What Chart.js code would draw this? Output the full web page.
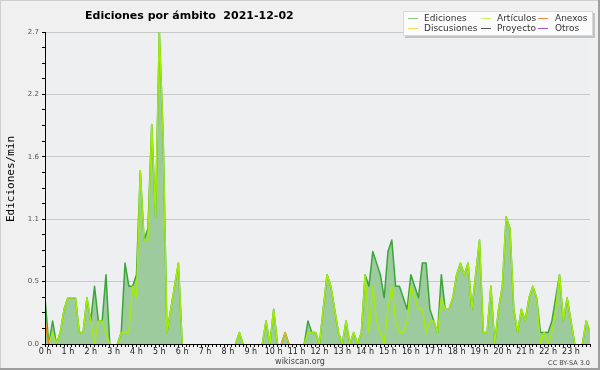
<!DOCTYPE html>
<html><head><meta charset="utf-8">
<script src="https://cdn.jsdelivr.net/npm/chart.js@4"></script>
<style>html,body{margin:0;padding:0;background:#f0f0f0;}canvas{display:block;}</style>
</head><body>
<canvas id="c" width="600" height="370"></canvas>
<script>
// 10-minute slots, 0 = 00:00 ... 143 = 23:50
const hourLabels = ['0 h','1 h','2 h','3 h','4 h','5 h','6 h','7 h','8 h','9 h','10 h','11 h','12 h','13 h','14 h','15 h','16 h','17 h','18 h','19 h','20 h','21 h','22 h','23 h'];
const yTickValues = [0, 0.54, 1.08, 1.62, 2.16, 2.7];
const yTickLabels = ['0.0', '0.5', '1.1', '1.6', '2.2', '2.7'];
const seriesNames = ['Ediciones', 'Artículos', 'Anexos', 'Discusiones', 'Proyecto', 'Otros'];

const ediciones = [
 0.4,0,0.2,0,0.1,0.3, 0.4,0.4,0.4,0.1,0.1,0.4, 0.2,0.5,0.2,0.2,0.6,0,
 0,0,0.1,0.7,0.5,0.5, 0.6,1.5,0.9,1.0,1.9,1.1, 2.7,1.8,0.1,0.3,0.5,0.7,
 0,0,0,0,0,0, 0,0,0,0,0,0, 0,0,0,0.1,0,0,
 0,0,0,0,0.2,0, 0.3,0,0,0.1,0,0, 0,0,0,0.2,0.1,0.1,
 0,0.3,0.6,0.5,0.3,0.1, 0,0.2,0,0.1,0,0.1, 0.6,0.5,0.8,0.7,0.6,0.4,
 0.8,0.9,0.5,0.5,0.4,0.3, 0.6,0.5,0.4,0.7,0.7,0.3, 0.2,0.1,0.6,0.3,0.3,0.4,
 0.6,0.7,0.6,0.7,0.3,0.6, 0.9,0.1,0.1,0.5,0,0.3, 0.5,1.1,1.0,0.3,0.1,0.3,
 0.2,0.4,0.5,0.4,0.1,0.1, 0.1,0.2,0.4,0.6,0.2,0.4, 0.2,0,0,0,0.2,0.1
];
const articulos = [
 0.2,0,0.1,0,0.1,0.3, 0.4,0.4,0.4,0.1,0.1,0.4, 0.2,0,0.2,0.2,0.1,0,
 0,0,0.1,0.1,0.1,0.5, 0.4,1.5,0.9,0.9,1.9,1.1, 2.7,1.8,0.1,0.3,0.5,0.7,
 0,0,0,0,0,0, 0,0,0,0,0,0, 0,0,0,0.1,0,0,
 0,0,0,0,0.2,0, 0.3,0,0,0,0,0, 0,0,0,0.1,0.1,0.1,
 0,0.3,0.6,0.5,0.3,0.1, 0,0.2,0,0.1,0,0.1, 0.6,0.1,0.5,0.2,0.1,0,
 0.3,0.5,0.2,0.1,0.1,0.2, 0.5,0.4,0.3,0.3,0.1,0.2, 0.2,0.1,0.4,0.3,0.3,0.4,
 0.6,0.7,0.6,0.7,0.3,0.6, 0.9,0.1,0.1,0.5,0,0.3, 0.5,1.1,1.0,0.3,0.1,0.3,
 0.2,0.4,0.5,0.4,0,0.1, 0,0.1,0.3,0.6,0.2,0.4, 0.2,0,0,0,0.2,0.1
];
const anexos = [
 0.2,0,0,0,0,0, 0,0,0,0,0,0, 0,0,0,0,0,0,
 0,0,0,0,0,0, 0,0,0,0,0,0, 0,0,0,0,0,0,
 0,0,0,0,0,0, 0,0,0,0,0,0, 0,0,0,0,0,0,
 0,0,0,0,0,0, 0,0,0,0,0,0, 0,0,0,0,0,0,
 0,0,0,0,0,0, 0,0,0,0,0,0, 0,0,0,0,0,0,
 0,0,0,0,0,0, 0,0,0,0,0,0, 0,0,0,0,0,0,
 0,0,0,0,0,0, 0,0,0,0,0,0, 0,0,0,0,0,0,
 0,0,0,0,0,0, 0,0,0,0,0,0, 0,0,0,0,0,0
];
const discusiones = [
 0,0,0,0,0,0, 0,0,0,0,0,0, 0,0,0,0,0,0,
 0,0,0,0,0,0, 0,0,0,0,0,0, 0,0,0,0,0,0,
 0,0,0,0,0,0, 0,0,0,0,0,0, 0,0,0,0,0,0,
 0,0,0,0,0,0, 0,0,0,0.1,0,0, 0,0,0,0,0,0,
 0,0,0,0,0,0, 0,0,0,0,0,0, 0,0,0,0,0,0,
 0,0,0,0,0,0, 0,0,0,0,0,0, 0,0,0,0,0,0,
 0,0,0,0,0,0, 0,0,0,0,0,0, 0,0,0,0,0,0,
 0,0,0,0,0,0, 0,0,0,0,0,0, 0,0,0,0,0,0
];
const proyecto = [
 0,0,0,0,0,0, 0,0,0,0,0,0, 0,0,0,0,0,0,
 0,0,0,0,0,0, 0,0,0,0,0,0, 0,0,0,0,0,0,
 0,0,0,0,0,0, 0,0,0,0,0,0, 0,0,0,0,0,0,
 0,0,0,0,0,0, 0,0,0,0,0,0, 0,0,0,0,0,0,
 0,0,0,0,0,0, 0,0,0,0,0,0, 0,0,0,0,0,0,
 0,0,0,0,0,0, 0,0,0,0,0,0, 0,0,0,0,0,0,
 0,0,0,0,0,0, 0,0,0,0,0,0, 0,0,0,0,0,0,
 0,0,0,0,0,0, 0,0,0,0,0,0, 0,0,0,0,0,0
];
const otros = proyecto.slice();

const lineColors = ['#3aa53a', '#a2ec0a', '#ee7722', '#dcbc1c', '#555555', '#8844ee'];
const legendColors = ['#88cc88', '#ccee66', '#ee8855', '#eedd55', '#555555', '#9955ee'];

function toPoints(arr) { return arr.map((v, i) => ({x: i, y: v})); }
function hideFlat(color) {
  return ctx => (ctx.p0.parsed.y === 0 && ctx.p1.parsed.y === 0) ? 'rgba(0,0,0,0)' : color;
}
const seriesData = [ediciones, articulos, anexos, discusiones, proyecto, otros];
const datasets = seriesData.map((arr, k) => ({
  label: seriesNames[k],
  data: toPoints(arr),
  borderColor: lineColors[k],
  borderWidth: 1.5,
  borderJoinStyle: 'round',
  pointRadius: 0,
  tension: 0,
  fill: k === 0 ? 'origin' : false,
  backgroundColor: k === 0 ? '#9ecb9e' : lineColors[k],
  segment: { borderColor: hideFlat(lineColors[k]) },
  order: 10 - k
}));

const decor = {
  id: 'decor',
  beforeDraw(chart) {
    const c = chart.ctx, a = chart.chartArea;
    c.save();
    c.fillStyle = '#f0f0f0';
    c.fillRect(0, 0, 600, 370);
    c.fillStyle = '#eeeff1';
    c.fillRect(a.left, a.top, a.right - a.left, a.bottom - a.top);
    c.fillStyle = '#cfcfcf';
    c.fillRect(0, 0, 600, 1); c.fillRect(0, 0, 1, 370);
    c.fillStyle = '#9e9e9e';
    c.fillRect(0, 368, 600, 2); c.fillRect(598, 0, 2, 370);
    c.restore();
  },
  afterDraw(chart) {
    const c = chart.ctx;
    c.save();
    c.fillStyle = '#000';
    c.font = 'bold 11px "DejaVu Sans"';
    c.textBaseline = 'alphabetic';
    c.textAlign = 'left';
    c.fillText('Ediciones por ámbito  2021-12-02', 85, 19);
    c.save();
    c.translate(11, 179);
    c.rotate(-Math.PI / 2);
    c.font = '11px "DejaVu Sans Mono"';
    c.textAlign = 'center';
    c.textBaseline = 'middle';
    c.fillStyle = '#000';
    c.fillText('Ediciones/min', 0, 0);
    c.restore();
    // legend
    c.fillStyle = '#c4c4c4';
    c.fillRect(405, 13, 190, 25);
    c.fillStyle = '#fbfbfb';
    c.fillRect(403, 11, 190, 25);
    c.strokeStyle = '#d8d8d8';
    c.lineWidth = 1;
    c.strokeRect(403.5, 11.5, 189, 24);
    const cols = [[408, 424], [481, 497], [538, 555]];
    const rows = [18.5, 28.5];
    const order = [[0, 1, 2], [3, 4, 5]];
    c.font = '9px "DejaVu Sans"';
    c.textBaseline = 'middle';
    c.textAlign = 'left';
    for (let r = 0; r < 2; r++) {
      for (let k = 0; k < 3; k++) {
        const s = order[r][k];
        c.strokeStyle = legendColors[s];
        c.lineWidth = 1;
        c.beginPath();
        c.moveTo(cols[k][0], rows[r]);
        c.lineTo(cols[k][0] + 10, rows[r]);
        c.stroke();
        c.fillStyle = '#333';
        c.fillText(seriesNames[s], cols[k][1], rows[r] + 0.5);
      }
    }
    c.font = '8px "DejaVu Sans"';
    c.fillStyle = '#444';
    c.textAlign = 'center';
    c.fillText('wikiscan.org', 300, 361.5);
    c.font = '6.5px "DejaVu Sans"';
    c.textAlign = 'right';
    c.fillText('CC BY-SA 3.0', 590, 363);
    c.restore();
  }
};

new Chart(document.getElementById('c'), {
  type: 'line',
  data: { datasets },
  plugins: [decor],
  options: {
    responsive: false,
    animation: false,
    devicePixelRatio: 1,
    layout: { padding: { left: 0, top: 32, right: 10, bottom: 0 } },
    plugins: { legend: { display: false }, tooltip: { enabled: false }, title: { display: false } },
    scales: {
      x: {
        type: 'linear', min: 0, max: 143,
        afterFit(s) { s.height = 26; },
        afterBuildTicks(s) {
          const t = [];
          for (let i = 0; i <= 143; i++) t.push({ value: i });
          s.ticks = t;
        },
        ticks: {
          autoSkip: false, maxRotation: 0, minRotation: 0, padding: 0,
          font: { family: 'DejaVu Sans', size: 8 }, color: '#222',
          callback: v => (v % 6 === 0 ? hourLabels[v / 6] : '')
        },
        grid: { display: true, drawOnChartArea: false, drawTicks: true, tickLength: 3, tickColor: '#000' },
        border: { display: true, color: '#000', width: 1, z: 1 }
      },
      y: {
        min: 0, max: 2.7,
        afterFit(s) { s.width = 45; },
        afterBuildTicks(s) {
          const t = [];
          for (let k = 0; k < yTickValues.length; k++) {
            t.push({ value: yTickValues[k] });
            if (k < yTickValues.length - 1) {
              const step = (yTickValues[k + 1] - yTickValues[k]) / 4;
              for (let m = 1; m < 4; m++) t.push({ value: yTickValues[k] + step * m });
            }
          }
          s.ticks = t;
        },
        ticks: {
          autoSkip: false, padding: 3,
          font: { family: 'DejaVu Sans', size: 7 }, color: '#555',
          callback: (v, i) => (i % 4 === 0 ? yTickLabels[i / 4] : '')
        },
        grid: {
          drawTicks: true, tickLength: 3, tickColor: '#000',
          color: ctx => (ctx.index % 4 === 0 ? '#c8c8c8' : 'rgba(0,0,0,0)')
        },
        border: { display: true, color: '#000', width: 1, z: 1 }
      }
    }
  }
});
</script>
</body></html>
